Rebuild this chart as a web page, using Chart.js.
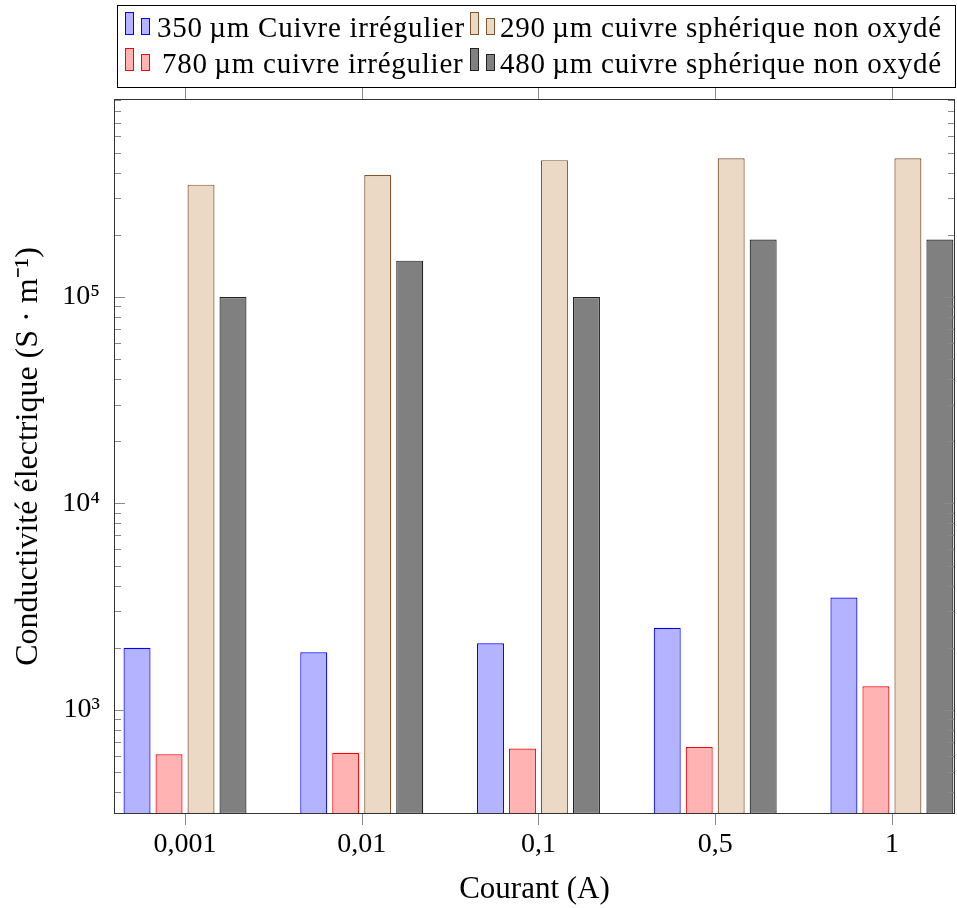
<!DOCTYPE html>
<html lang="fr">
<head>
<meta charset="utf-8">
<title>Conductivité électrique selon le courant</title>
<script src="https://cdn.jsdelivr.net/npm/chart.js@4.4.1/dist/chart.umd.min.js"></script>
<style>
  body { margin: 0; background: #fff; }
  #zone { position: relative; width: 957px; height: 908px; font-family: "Liberation Serif", serif; }
  #legende { position: absolute; left: 117px; top: 5px; width: 839px; height: 83px; border: 1px solid #000; box-sizing: border-box; }
  .icone { position: absolute; border: 1px solid; box-sizing: border-box; }
  .texte { position: absolute; font-size: 29px; line-height: 29px; letter-spacing: 0.75px; white-space: nowrap; color: #000; }
</style>
</head>
<body>
<div id="zone">
  <canvas id="graphique"></canvas>
</div>
<script>
// ================================
//            DONNÉES
// ================================
const courants = ["0,001", "0,01", "0,1", "0,5", "1"];
const irregulier350 = [2000, 1900, 2100, 2500, 3500];
const irregulier780 = [610, 620, 650, 660, 1300];
const spherique290 = [350000, 390000, 460000, 470000, 470000];
const spherique480 = [100000, 150000, 100000, 190000, 190000];
const nomsSeries = [
  "350\u2009µm Cuivre irrégulier",
  "780\u2009µm cuivre irrégulier",
  "290\u2009µm cuivre sphérique non oxydé",
  "480\u2009µm cuivre sphérique non oxydé",
];
const remplissages = ["#b3b3ff", "#ffb3b3", "#ebd9c5", "#808080"];
const bordures = ["#0000ff", "#ff0000", "#80562e", "#222222"];
const exposants = { 2: "²", 3: "³", 4: "⁴", 5: "⁵", 6: "⁶" };

const series = [irregulier350, irregulier780, spherique290, spherique480];

// ================================
//     CADRE + GRADUATIONS (pgfplots)
// ================================
const cadre = {
  id: "cadre",
  afterDatasetsDraw(chart) {
    const { ctx, chartArea: a, scales } = chart;
    const x = scales.x, y = scales.y;
    const trait = (x1, y1, x2, y2) => {
      ctx.beginPath();
      ctx.moveTo(x1, y1);
      ctx.lineTo(x2, y2);
      ctx.stroke();
    };
    ctx.save();
    ctx.lineWidth = 1;
    ctx.strokeStyle = "#8a8a8a";
    y.ticks.forEach((t) => {
      const py = Math.round(y.getPixelForValue(t.value)) + 0.5;
      const l = t.major ? 11 : 7;
      trait(a.left, py, a.left + l, py);
      trait(a.right, py, a.right - l, py);
    });
    x.ticks.forEach((t) => {
      const px = Math.round(x.getPixelForValue(t.value)) + 0.5;
      trait(px, a.bottom, px, a.bottom + 11);
      trait(px, a.top, px, a.top - 11);
    });
    ctx.strokeStyle = "#333";
    ctx.strokeRect(a.left + 0.5, a.top + 0.5, a.width - 1, a.height - 1);
    ctx.restore();
  },
};

// ================================
//           GRAPHIQUE
// ================================
const police = { family: "'Liberation Serif', serif", size: 28 };

new Chart(document.getElementById("graphique"), {
  type: "bar",
  data: {
    datasets: series.map((vals, k) => ({
      label: nomsSeries[k],
      data: vals.map((v, i) => ({ x: i, y: v })),
      backgroundColor: remplissages[k],
      borderColor: bordures[k],
      borderWidth: 1.2,
      borderSkipped: false,
      categoryPercentage: 0.724,
      barPercentage: 0.844,
    })),
  },
  plugins: [cadre],
  options: {
    responsive: true,
    maintainAspectRatio: false,
    animation: false,
    layout: { padding: { top: 99, right: 2, left: 0, bottom: 0 } },
    plugins: { legend: { display: false }, tooltip: { enabled: false } },
    scales: {
      x: {
        type: "linear",
        offset: false,
        min: -0.4018,
        max: 4.357,
        grid: { display: false, drawTicks: false, offset: false },
        border: { display: false },
        afterBuildTicks: (s) => {
          s.ticks = courants.map((c, i) => ({ value: i }));
        },
        afterFit: (s) => {
          s.height = 94;
        },
        ticks: {
          autoSkip: false,
          maxRotation: 0,
          padding: 14,
          color: "#000",
          font: police,
          callback: (v) => courants[v] ?? "",
        },
        title: {
          display: true,
          text: "Courant (A)",
          color: "#000",
          font: { family: "'Liberation Serif', serif", size: 31 },
          padding: { top: 0, bottom: 0 },
        },
      },
      y: {
        type: "logarithmic",
        min: 313,
        max: 910000,
        grid: { display: false, drawTicks: false },
        border: { display: false },
        afterBuildTicks: (s) => {
          const t = [];
          for (let p = 2; p <= 5; p++) {
            for (let m = 1; m <= 9; m++) {
              const v = m * Math.pow(10, p);
              if (v >= s.min && v <= s.max) t.push({ value: v, major: m === 1 });
            }
          }
          s.ticks = t;
        },
        afterFit: (s) => {
          s.width = 114;
        },
        ticks: {
          autoSkip: false,
          padding: 14,
          color: "#000",
          font: police,
          callback: (v) => {
            const e = Math.log10(v);
            return Math.abs(e - Math.round(e)) < 1e-9 ? "10" + exposants[Math.round(e)] : "";
          },
        },
        title: {
          display: true,
          text: "Conductivité électrique (S · m⁻¹)",
          color: "#000",
          font: { family: "'Liberation Serif', serif", size: 32 },
          padding: { top: 9, bottom: 0 },
        },
      },
    },
  },
});

// ================================
//         LÉGENDE (2 colonnes)
// ================================
const zone = document.getElementById("zone");
const boite = document.createElement("div");
boite.id = "legende";
zone.appendChild(boite);

series.forEach((vals, k) => {
  const col = Math.floor(k / 2);
  const row = k % 2;
  const x0 = col ? 470 : 125;
  const dy = row * 35.7;

  // deux petites barres comme dans pgfplots
  [[0, 12, 23], [16, 18, 17]].forEach(([dx, top, h]) => {
    const b = document.createElement("div");
    b.className = "icone";
    b.style.left = x0 + dx + "px";
    b.style.top = top + dy + "px";
    b.style.width = "9px";
    b.style.height = h + "px";
    b.style.background = remplissages[k];
    b.style.borderColor = bordures[k];
    zone.appendChild(b);
  });

  const t = document.createElement("span");
  t.className = "texte";
  t.textContent = nomsSeries[k];
  t.style.left = (col ? 500 : row ? 162 : 157) + "px";
  t.style.top = 13.4 + dy + "px";
  zone.appendChild(t);
});
</script>
</body>
</html>
